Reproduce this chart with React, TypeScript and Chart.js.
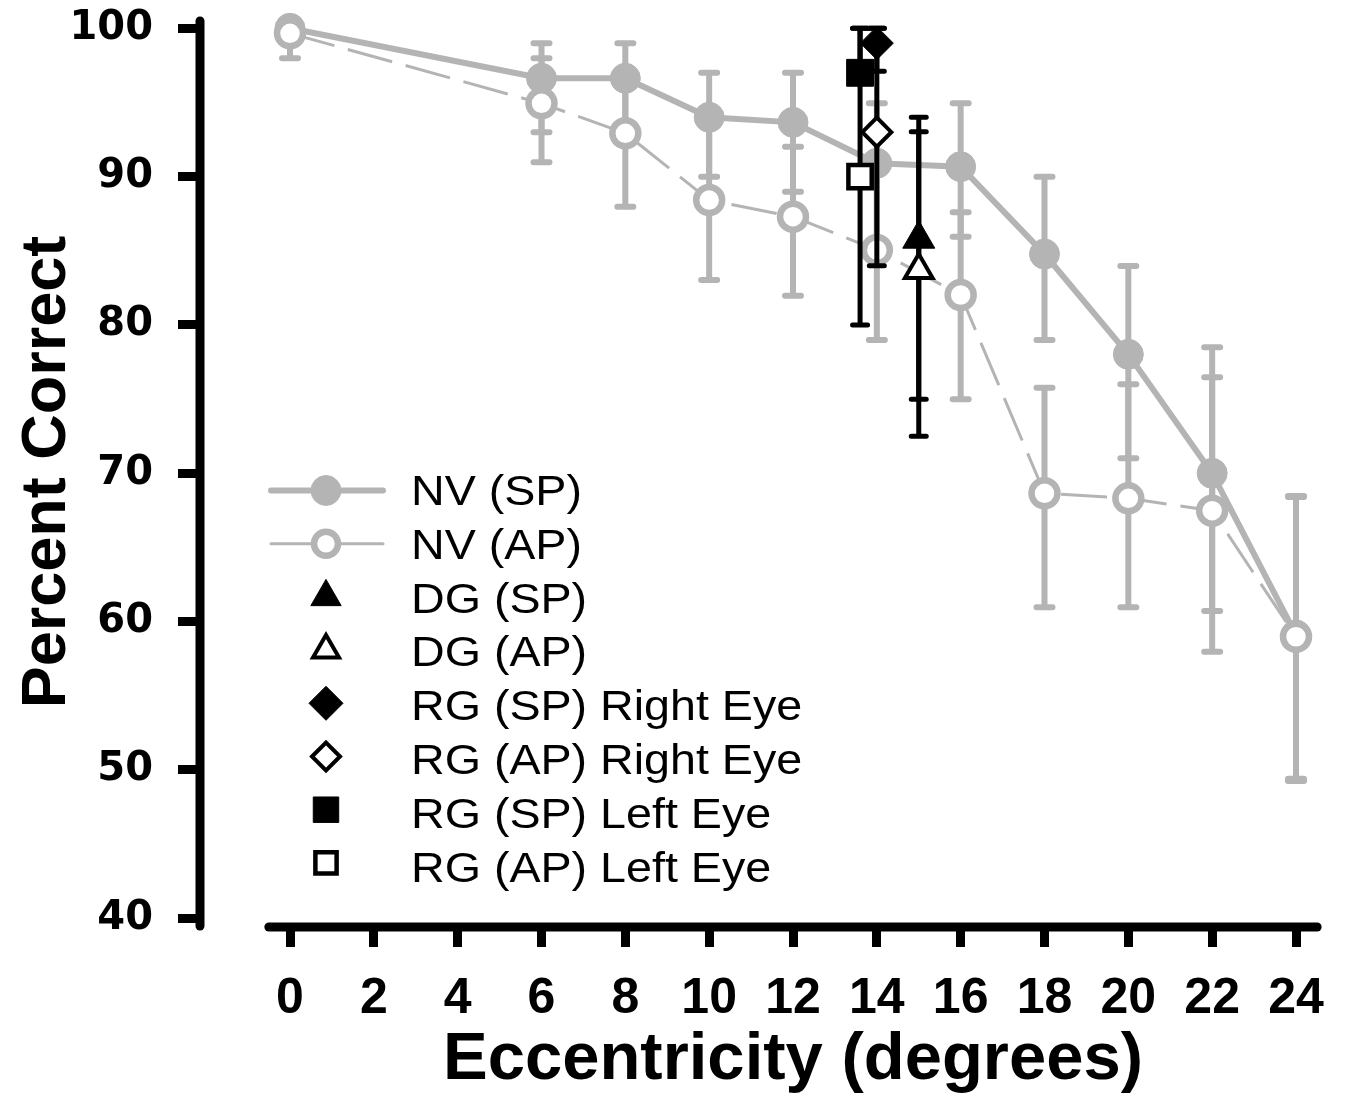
import React, { useEffect, useRef } from 'react';
import { Chart, registerables } from 'chart.js';
import { drawPoint } from 'chart.js/helpers';

Chart.register(...registerables);

// ---------- data ----------
const xTickValues = [0, 2, 4, 6, 8, 10, 12, 14, 16, 18, 20, 22, 24];
const yTickValues = [40, 50, 60, 70, 80, 90, 100];

const nvX = [0, 6, 8, 10, 12, 14, 16, 18, 20, 22, 24];
const nvSP = [100, 96.63, 96.63, 94.0, 93.66, 90.9, 90.67, 84.78, 78.02, 70.0, 59.1];
const nvSPLow = [100, 92.99, 93.5, 90.0, 88.98, 85.6, 85.95, 78.99, 71.01, 60.72, 49.4];
const nvSPHigh = [100, 98.99, 98.99, 97.0, 97.0, 94.94, 94.94, 90.0, 83.97, 78.49, 68.4];
const nvAP = [99.66, 94.94, 92.92, 88.42, 87.3, 85.05, 82.02, 68.65, 68.31, 67.48, 58.98];
const nvAPLow = [97.98, 90.97, 87.97, 83.03, 81.97, 78.99, 75.0, 60.97, 60.97, 57.97, 49.26];
const nvAPHigh = [100.6, 97.98, 97.2, 93.8, 92.02, 91.1, 87.6, 75.77, 76.0, 76.47, 68.47];

const dgX = [15];
const dgSP = [85.8];
const dgSPLow = [75.0];
const dgSPHigh = [94.0];
const dgAP = [83.7];
const dgAPLow = [72.5];
const dgAPHigh = [93.03];

const rgRightX = [14];
const rgSPRight = [99.0];
const rgSPRightLow = [97.1];
const rgSPRightHigh = [100];
const rgAPRight = [93.0];
const rgAPRightLow = [84.0];
const rgAPRightHigh = [100];

const rgLeftX = [13.6];
const rgSPLeft = [97.0];
const rgSPLeftLow = [96.3];
const rgSPLeftHigh = [100];
const rgAPLeft = [90.0];
const rgAPLeftLow = [80.0];
const rgAPLeftHigh = [100];

const seriesLabels = [
  'NV (SP)',
  'NV (AP)',
  'DG (SP)',
  'DG (AP)',
  'RG (SP) Right Eye',
  'RG (AP) Right Eye',
  'RG (SP) Left Eye',
  'RG (AP) Left Eye',
];

const GRAY = '#b4b4b4';
const SANS = "'Liberation Sans', Arial, Helvetica, sans-serif";

const pts = (xs: number[], ys: number[]) => ys.map((y, i) => ({ x: xs[i], y }));

const errorBars: Record<string, { low: number[]; high: number[] }> = {
  'NV (SP)': { low: nvSPLow, high: nvSPHigh },
  'NV (AP)': { low: nvAPLow, high: nvAPHigh },
  'DG (SP)': { low: dgSPLow, high: dgSPHigh },
  'DG (AP)': { low: dgAPLow, high: dgAPHigh },
  'RG (SP) Right Eye': { low: rgSPRightLow, high: rgSPRightHigh },
  'RG (AP) Right Eye': { low: rgAPRightLow, high: rgAPRightHigh },
  'RG (SP) Left Eye': { low: rgSPLeftLow, high: rgSPLeftHigh },
  'RG (AP) Left Eye': { low: rgAPLeftLow, high: rgAPLeftHigh },
};

// legend marker radii (style only)
const legendRadius: Record<string, number> = {
  'NV (SP)': 15,
  'NV (AP)': 12,
  'DG (SP)': 17.5,
  'DG (AP)': 15,
  'RG (SP) Right Eye': 17,
  'RG (AP) Right Eye': 14,
  'RG (SP) Left Eye': 18,
  'RG (AP) Left Eye': 15,
};

// pixel anchors of the axes (layout)
const X0_PX = 290;
const X24_PX = 1296;
const Y100_PX = 28.3;
const Y40_PX = 918.3;

function drawBars(chart: any, labels: string[], color: string, width: number, capW: number) {
  const ctx = chart.ctx;
  const xs = chart.scales.x;
  const ys = chart.scales.y;
  ctx.save();
  ctx.strokeStyle = color;
  ctx.lineWidth = width;
  ctx.lineCap = 'round';
  chart.data.datasets.forEach((ds: any) => {
    if (!labels.includes(ds.label)) return;
    const e = errorBars[ds.label];
    ds.data.forEach((p: any, i: number) => {
      const lo = e.low[i];
      const hi = e.high[i];
      if (lo === hi) return;
      const px = xs.getPixelForValue(p.x);
      const yl = ys.getPixelForValue(lo);
      const yh = ys.getPixelForValue(hi);
      ctx.beginPath();
      ctx.moveTo(px, yl);
      ctx.lineTo(px, yh);
      ctx.moveTo(px - capW / 2, yl);
      ctx.lineTo(px + capW / 2, yl);
      ctx.moveTo(px - capW / 2, yh);
      ctx.lineTo(px + capW / 2, yh);
      ctx.stroke();
    });
  });
  ctx.restore();
}

const customPlugin = {
  id: 'customDecor',
  afterLayout(chart: any) {
    const ca = chart.chartArea;
    const xs = chart.scales.x;
    const ys = chart.scales.y;
    const kx = (X24_PX - X0_PX) / 24;
    const ky = (Y40_PX - Y100_PX) / 60;
    xs.min = (ca.left - X0_PX) / kx;
    xs.max = (ca.right - X0_PX) / kx;
    xs.configure();
    ys.max = 100 + (Y100_PX - ca.top) / ky;
    ys.min = 40 - (ca.bottom - Y40_PX) / ky;
    ys.configure();
  },
  beforeDatasetsDraw(chart: any) {
    const ctx = chart.ctx;
    const xs = chart.scales.x;
    const ca = chart.chartArea;
    ctx.save();
    ctx.strokeStyle = '#000';
    ctx.lineCap = 'round';
    ctx.lineWidth = 9;
    // y axis line
    ctx.beginPath();
    ctx.moveTo(ca.left, ca.top + 4);
    ctx.lineTo(ca.left, ca.bottom - 1);
    ctx.stroke();
    // x axis line (detached)
    ctx.beginPath();
    ctx.moveTo(xs.getPixelForValue(-0.6) + 4, ca.bottom);
    ctx.lineTo(xs.getPixelForValue(24.6) - 4, ca.bottom);
    ctx.stroke();
    ctx.restore();
    drawBars(chart, ['NV (SP)', 'NV (AP)'], GRAY, 6, 16);
  },
  afterDatasetDraw(chart: any, args: any) {
    const ds = chart.data.datasets[args.index];
    if (ds.label === 'NV (AP)') {
      drawBars(
        chart,
        ['DG (SP)', 'DG (AP)', 'RG (SP) Right Eye', 'RG (AP) Right Eye', 'RG (SP) Left Eye', 'RG (AP) Left Eye'],
        '#000',
        5,
        15
      );
    }
  },
  afterDraw(chart: any) {
    const ctx = chart.ctx;
    const markerX = 326;
    const textX = 411;
    seriesLabels.forEach((label, i) => {
      const ds = chart.data.datasets.find((d: any) => d.label === label);
      if (!ds) return;
      const my = 490.5 + i * 53.2;
      const ty = 505 + i * 53.8;
      ctx.save();
      if (ds.showLine) {
        ctx.strokeStyle = ds.borderColor;
        ctx.lineWidth = ds.borderWidth;
        ctx.lineCap = 'round';
        ctx.beginPath();
        ctx.moveTo(271, my);
        ctx.lineTo(383, my);
        ctx.stroke();
      }
      ctx.fillStyle = ds.pointBackgroundColor;
      ctx.strokeStyle = ds.pointBorderColor;
      const bw = ds.pointBorderWidth;
      ctx.lineWidth = bw;
      drawPoint(ctx, { pointStyle: ds.pointStyle, radius: legendRadius[label], borderWidth: bw, rotation: 0 } as any, markerX, my);
      ctx.restore();

      ctx.save();
      ctx.fillStyle = '#000';
      ctx.font = `42px ${SANS}`;
      ctx.textBaseline = 'alphabetic';
      ctx.textAlign = 'left';
      ctx.translate(textX, ty);
      ctx.scale(1.11, 1);
      ctx.fillText(label, 0, 0);
      ctx.restore();
    });
  },
};

export default function App() {
  const ref = useRef<HTMLCanvasElement>(null);

  useEffect(() => {
    const canvas = ref.current;
    if (!canvas) return;

    const datasets: any[] = [
      {
        label: 'NV (SP)',
        data: pts(nvX, nvSP),
        showLine: true,
        borderColor: GRAY,
        borderWidth: 6,
        pointStyle: 'circle',
        pointRadius: 15,
        pointBackgroundColor: GRAY,
        pointBorderColor: GRAY,
        pointBorderWidth: 1,
        tension: 0,
        clip: false,
        order: 3,
      },
      {
        label: 'NV (AP)',
        data: pts(nvX, nvAP),
        showLine: true,
        borderColor: GRAY,
        borderWidth: 3,
        borderDash: [46, 14],
        pointStyle: 'circle',
        pointRadius: 13,
        pointBackgroundColor: '#ffffff',
        pointBorderColor: GRAY,
        pointBorderWidth: 6.5,
        tension: 0,
        clip: false,
        order: 2,
      },
      {
        label: 'DG (SP)',
        data: pts(dgX, dgSP),
        showLine: false,
        pointStyle: 'triangle',
        pointRadius: 18.5,
        pointBackgroundColor: '#000',
        pointBorderColor: '#000',
        pointBorderWidth: 1,
        clip: false,
        order: 1,
      },
      {
        label: 'DG (AP)',
        data: pts(dgX, dgAP),
        showLine: false,
        pointStyle: 'triangle',
        pointRadius: 16,
        pointBackgroundColor: '#fff',
        pointBorderColor: '#000',
        pointBorderWidth: 4,
        clip: false,
        order: 1,
      },
      {
        label: 'RG (SP) Right Eye',
        data: pts(rgRightX, rgSPRight),
        showLine: false,
        pointStyle: 'rectRot',
        pointRadius: 16.5,
        pointBackgroundColor: '#000',
        pointBorderColor: '#000',
        pointBorderWidth: 1,
        clip: false,
        order: 1,
      },
      {
        label: 'RG (AP) Right Eye',
        data: pts(rgRightX, rgAPRight),
        showLine: false,
        pointStyle: 'rectRot',
        pointRadius: 14.5,
        pointBackgroundColor: '#fff',
        pointBorderColor: '#000',
        pointBorderWidth: 4,
        clip: false,
        order: 1,
      },
      {
        label: 'RG (SP) Left Eye',
        data: pts(rgLeftX, rgSPLeft),
        showLine: false,
        pointStyle: 'rect',
        pointRadius: 19,
        pointBackgroundColor: '#000',
        pointBorderColor: '#000',
        pointBorderWidth: 1,
        clip: false,
        order: 1,
      },
      {
        label: 'RG (AP) Left Eye',
        data: pts(rgLeftX, rgAPLeft),
        showLine: false,
        pointStyle: 'rect',
        pointRadius: 16.5,
        pointBackgroundColor: '#fff',
        pointBorderColor: '#000',
        pointBorderWidth: 4.5,
        clip: false,
        order: 1,
      },
    ];

    const chart = new Chart(canvas, {
      type: 'scatter',
      data: { datasets },
      options: {
        animation: false,
        responsive: false,
        events: [],
        layout: { autoPadding: false, padding: { top: 17, left: 0, right: 0, bottom: 0 } },
        plugins: {
          legend: { display: false },
          tooltip: { enabled: false },
        },
        scales: {
          x: {
            type: 'linear',
            min: -2.147,
            max: 26.147,
            afterBuildTicks: (s: any) => {
              s.ticks = xTickValues.map((v) => ({ value: v }));
            },
            afterFit: (s: any) => {
              s.height = 172;
              s.paddingLeft = 0;
              s.paddingRight = 0;
            },
            border: { display: false },
            grid: {
              drawOnChartArea: false,
              drawTicks: true,
              tickLength: 20,
              tickWidth: 9,
              tickColor: '#000',
            },
            ticks: {
              padding: 22,
              color: '#000',
              autoSkip: false,
              maxRotation: 0,
              font: { family: SANS, size: 50, weight: 'bold' },
            },
            title: {
              display: true,
              text: 'Eccentricity (degrees)',
              color: '#000',
              font: { family: SANS, size: 67, weight: 'bold' },
              padding: { top: 0, bottom: -2 },
            },
          },
          y: {
            type: 'linear',
            min: 39.41,
            max: 100.76,
            afterBuildTicks: (s: any) => {
              s.ticks = yTickValues.map((v) => ({ value: v }));
            },
            afterFit: (s: any) => {
              s.width = 200;
              s.paddingTop = 0;
              s.paddingBottom = 0;
            },
            border: { display: false },
            grid: {
              drawOnChartArea: false,
              drawTicks: true,
              tickLength: 22,
              tickWidth: 9,
              tickColor: '#000',
            },
            ticks: {
              padding: 25,
              color: '#000',
              font: { family: "'DejaVu Sans', Verdana, sans-serif", size: 40, weight: 'bold' },
            },
            title: {
              display: true,
              text: 'Percent Correct',
              color: '#000',
              font: { family: SANS, size: 63, weight: 'bold' },
              padding: { top: 10, bottom: 0 },
            },
          },
        },
      } as any,
      plugins: [customPlugin],
    });

    return () => {
      chart.destroy();
    };
  }, []);

  return (
    <div
      style={{
        position: 'fixed',
        left: 0,
        top: 0,
        width: 1352,
        height: 1099,
        overflow: 'hidden',
        background: '#ffffff',
      }}
    >
      <canvas ref={ref} width={1386} height={1099} style={{ display: 'block', width: 1386, height: 1099 }} />
    </div>
  );
}
